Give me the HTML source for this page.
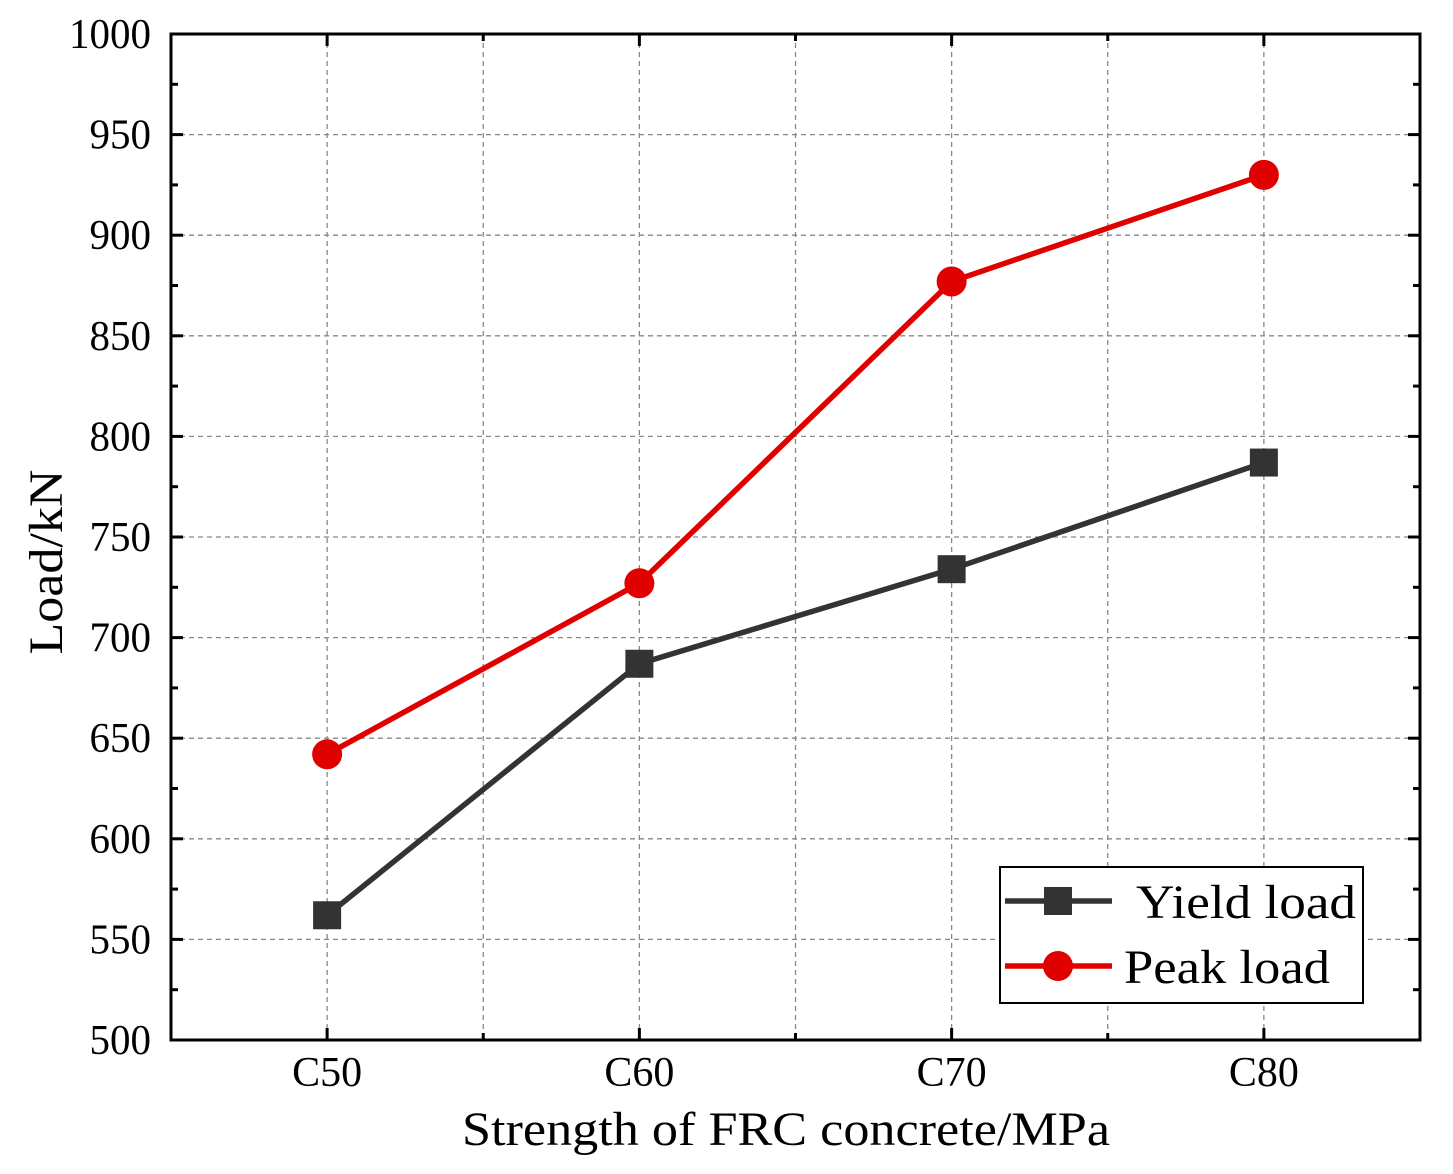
<!DOCTYPE html>
<html><head><meta charset="utf-8"><style>
html,body{margin:0;padding:0;background:#fff;}
svg{display:block;font-family:"Liberation Serif",serif;}
</style></head><body>
<svg id="chart" width="1453" height="1174" viewBox="0 0 1453 1174" xmlns="http://www.w3.org/2000/svg">
<g id="grid"></g><g id="axes"></g><g id="series"></g><g id="legend"></g>
</svg>
<script>
const categories = ["C50","C60","C70","C80"];
const yieldLoad = [562, 687, 734, 787];
const peakLoad = [642, 727, 877, 930];
const yTicks = [500,550,600,650,700,750,800,850,900,950,1000];

const L=171,R=1420,T=34,B=1040,yMin=500,yMax=1000;
const NS="http://www.w3.org/2000/svg";
const xs=i=>L+(R-L)*(i+0.5)/categories.length;
const ys=v=>B-(v-yMin)/(yMax-yMin)*(B-T);
function mk(tag,attrs,parent,text){const e=document.createElementNS(NS,tag);for(const k in attrs)e.setAttribute(k,attrs[k]);if(text!==undefined)e.textContent=text;parent.appendChild(e);return e;}
const grid=document.getElementById('grid'),axes=document.getElementById('axes'),series=document.getElementById('series'),legend=document.getElementById('legend');

yTicks.forEach(v=>{
  const y=ys(v);
  if(v>yMin&&v<yMax){const g=mk('line',{x1:L,x2:R,y1:y,y2:y,stroke:'#888','stroke-width':1.3,'stroke-dasharray':'5,4'},grid);
  
  }
  const s=String(v);
  const t=mk('text',{x:L-20,y:y+14,'text-anchor':'end','font-size':42,fill:'#000',textLength:s.length*20.5,lengthAdjust:'spacingAndGlyphs'},axes,s);
  
  
  [[L,L+12],[R,R-12]].forEach(([a,b])=>mk('line',{x1:a,x2:b,y1:y,y2:y,stroke:'#000','stroke-width':3},axes));
  if(v<yMax){const ym=ys(v+25);[[L,L+7],[R,R-7]].forEach(([a,b])=>mk('line',{x1:a,x2:b,y1:ym,y2:ym,stroke:'#000','stroke-width':3},axes));}
});
categories.forEach((c,i)=>{
  const x=xs(i);
  const g=mk('line',{x1:x,x2:x,y1:T,y2:B,stroke:'#888','stroke-width':1.3,'stroke-dasharray':'5,4'},grid);
  
  
  [[B,B-12],[T,T+12]].forEach(([a,b])=>mk('line',{x1:x,x2:x,y1:a,y2:b,stroke:'#000','stroke-width':3},axes));
  if(i<categories.length-1){const xm=(x+xs(i+1))/2;
    const g2=mk('line',{x1:xm,x2:xm,y1:T,y2:B,stroke:'#888','stroke-width':1.3,'stroke-dasharray':'5,4'},grid);
    
    
    [[B,B-7],[T,T+7]].forEach(([a,b])=>mk('line',{x1:xm,x2:xm,y1:a,y2:b,stroke:'#000','stroke-width':3},axes));}
  const t=mk('text',{x:x,y:B+46,'text-anchor':'middle','font-size':42,fill:'#000',textLength:70,lengthAdjust:'spacingAndGlyphs'},axes,c);
  
  
});
const fr=mk('rect',{x:L,y:T,width:R-L,height:B-T,fill:'none',stroke:'#000','stroke-width':3},axes);


const xt=mk('text',{x:786,y:1145,'text-anchor':'middle','font-size':48,fill:'#000',textLength:648,lengthAdjust:'spacingAndGlyphs'},axes,'Strength of FRC concrete/MPa');


const yt=mk('text',{x:0,y:0,'text-anchor':'middle','font-size':48,fill:'#000',textLength:185,lengthAdjust:'spacingAndGlyphs',transform:'translate(62,562) rotate(-90)'},axes,'Load/kN');



function drawSeries(vals,color,shape,name){
  const pts=vals.map((v,i)=>xs(i)+','+ys(v)).join(' ');
  const pl=mk('polyline',{points:pts,fill:'none',stroke:color,'stroke-width':5.5},series);
  
  
  vals.forEach((v,i)=>{
    let m;
    if(shape==='square') m=mk('rect',{x:xs(i)-14,y:ys(v)-14,width:28,height:28,fill:color},series);
    else m=mk('circle',{cx:xs(i),cy:ys(v),r:15,fill:color},series);
    
    
  });
}
drawSeries(yieldLoad,'#333333','square','yield-load');
drawSeries(peakLoad,'#e00000','circle','peak-load');

const lb=mk('rect',{x:1000,y:867,width:363,height:136,fill:'#fff',stroke:'#000','stroke-width':2},legend);


mk('line',{x1:1005,x2:1112,y1:901,y2:901,stroke:'#333333','stroke-width':5.5},legend);
mk('rect',{x:1044,y:887,width:28,height:28,fill:'#333333'},legend);
const l1=mk('text',{x:1136,y:918,'font-size':48,fill:'#000',textLength:220,lengthAdjust:'spacingAndGlyphs'},legend,'Yield load');


mk('line',{x1:1005,x2:1112,y1:966,y2:966,stroke:'#e00000','stroke-width':5.5},legend);
mk('circle',{cx:1058,cy:966,r:15,fill:'#e00000'},legend);
const l2=mk('text',{x:1124,y:983,'font-size':48,fill:'#000',textLength:206,lengthAdjust:'spacingAndGlyphs'},legend,'Peak load');


</script>
</body></html>
